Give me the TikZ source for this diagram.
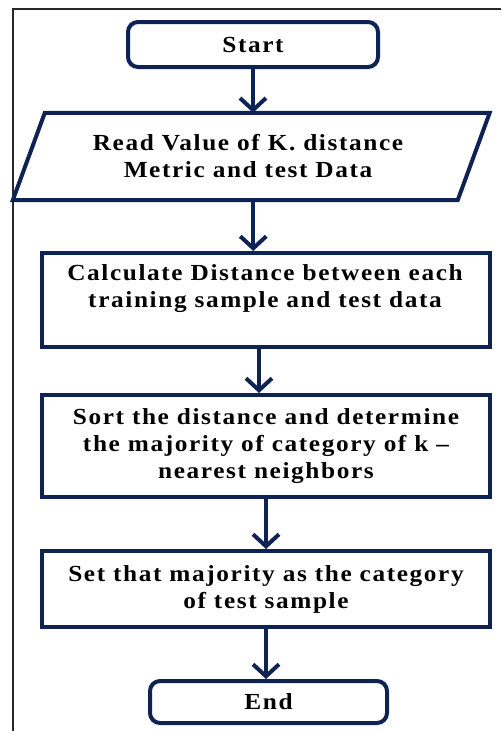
\documentclass[tikz,border=0pt]{standalone}
\usepackage{fontspec}
\setmainfont{Liberation Serif}[LetterSpace=7,FakeStretch=1.1]
\usetikzlibrary{arrows.meta}
\definecolor{navy}{RGB}{14,34,84}
\definecolor{framegray}{RGB}{40,40,40}
\begin{document}
\begin{tikzpicture}[x=1pt,y=-1pt,
  box/.style={draw=navy,line width=4pt,inner sep=0pt,align=center,
    font=\fontsize{23}{27}\selectfont\bfseries},
  term/.style={box,rounded corners=10pt},
  txt/.style={inner sep=0pt,align=center,font=\fontsize{23}{27}\selectfont\bfseries},
  arr/.style={draw=navy,line width=4pt,-{Straight Barb[length=12pt,width=26pt]}}]
\useasboundingbox (0,0) rectangle (501,731);
\draw[framegray,line width=1.6pt] (13,731) -- (13,9) -- (501,9);
% nodes
\node[term,minimum width=250pt,minimum height=45pt] (start) at (253,44.5) {Start};
\node[inner sep=0pt,minimum width=444.5pt,minimum height=87pt] (read) at (251.25,156.5) {};
\draw[navy,line width=4pt,line join=miter]
  ([xshift=16pt]read.north west) -- ([xshift=16pt]read.north east)
  -- ([xshift=-16pt]read.south east) -- ([xshift=-16pt]read.south west) -- cycle;
\node[txt] (readtxt) at (248,156.5) {Read Value of K. distance\\Metric and test Data};
\node[box,minimum width=448pt,minimum height=94pt] (calc) at (266,300) {};
\node[txt] (calctxt) at (265,288.5) {Calculate Distance between each\\training sample and test data};
\node[box,minimum width=448pt,minimum height=102pt] (sort) at (266,446) {Sort the distance and determine\\the majority of category of k –\\nearest neighbors};
\node[box,minimum width=448pt,minimum height=76pt] (set) at (266,589) {Set that majority as the category\\of test sample};
\node[term,minimum width=237pt,minimum height=42pt] (end) at (268.5,702) {End};
% connectors
\draw[arr] (start.south) -- (start.south |- read.north);
\draw[arr] ([xshift=2pt]read.south) -- ([xshift=2pt]read.south |- calc.north);
\draw[arr] ([xshift=-7pt]calc.south) -- ([xshift=-7pt]sort.north);
\draw[arr] (sort.south) -- (set.north);
\draw[arr] (set.south) -- (set.south |- end.north);
\end{tikzpicture}
\end{document}
